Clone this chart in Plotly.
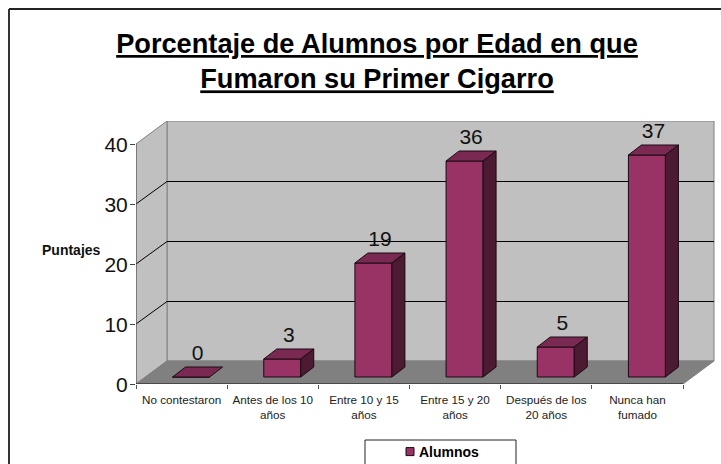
import plotly.graph_objects as go

categories = ["No contestaron", "Antes de los 10<br>años", "Entre 10 y 15<br>años",
              "Entre 15 y 20<br>años", "Después de los<br>20 años", "Nunca han<br>fumado"]
values = [0, 3, 19, 36, 5, 37]
y_ticks = [0, 10, 20, 30, 40]
series_name = "Alumnos"
title = "Porcentaje de Alumnos por Edad en que<br>Fumaron su Primer Cigarro"

W, H = 721, 464
L, R, T, B = 136, 715, 121, 384      # plot box on the page (px)
PX_X = (683 - 136) / 6               # px per category
PX_Y = 6.0                           # px per value unit
WALL_DX, WALL_DY = 31 / PX_X, 23 / PX_Y
BAR_W = 37 / PX_X
BAR_SHIFT_X, BAR_SHIFT_Y = 9.5 / PX_X, 7 / PX_Y
BAR_DX, BAR_DY = 13 / PX_X, 10 / PX_Y
LABEL_GAP = 2 / PX_Y
GRID_NUDGE = 0.5 / PX_Y

FRONT, TOP, SIDE, EDGE = "#993366", "#7A2A52", "#4D1A33", "#1A0A12"
n = len(categories)
y_max = y_ticks[-1]

fig = go.Figure()

def poly(xs, ys, fill, line, axes=("x", "y"), width=1):
    fig.add_trace(go.Scatter(x=xs, y=ys, mode="lines", fill="toself", fillcolor=fill,
                             line=dict(color=line, width=width), hoverinfo="skip",
                             showlegend=False, xaxis=axes[0], yaxis=axes[1]))

def seg(xs, ys, color, axes=("x", "y"), width=1):
    fig.add_trace(go.Scatter(x=xs, y=ys, mode="lines", line=dict(color=color, width=width),
                             hoverinfo="skip", showlegend=False, xaxis=axes[0], yaxis=axes[1]))

# walls and floor
poly([WALL_DX, n + WALL_DX, n + WALL_DX, WALL_DX, WALL_DX],
     [WALL_DY, WALL_DY, y_max + WALL_DY, y_max + WALL_DY, WALL_DY], "#C0C0C0", "#808080")
poly([0, WALL_DX, WALL_DX, 0, 0], [0, WALL_DY, y_max + WALL_DY, y_max, 0], "#C0C0C0", "#808080")
poly([0, n, n + WALL_DX, WALL_DX, 0], [0, 0, WALL_DY, WALL_DY, 0], "#808080", "#808080")

# gridlines
for v in y_ticks[1:-1]:
    seg([0, WALL_DX, n + WALL_DX],
        [v, v + WALL_DY - GRID_NUDGE, v + WALL_DY - GRID_NUDGE], "#000000")

# axis lines
seg([0, 0], [0, y_max], "#555555")
seg([0, n], [0, 0], "#111111")

# bars: front faces
centers = [i + 0.5 + BAR_SHIFT_X for i in range(n)]
fig.add_trace(go.Bar(x=centers, y=values, base=[BAR_SHIFT_Y] * n, width=BAR_W, name=series_name,
                     marker=dict(color=FRONT, line=dict(color=EDGE, width=1)),
                     xaxis="x2", yaxis="y2", showlegend=False))

# legend entry
fig.add_trace(go.Scatter(x=[None], y=[None], mode="markers", name=series_name,
                         marker=dict(symbol="square", size=8, color=FRONT,
                                     line=dict(color=EDGE, width=1)),
                         xaxis="x2", yaxis="y2", showlegend=True))

# bars: top and side faces
for c, v in zip(centers, values):
    x0, x1 = c - BAR_W / 2, c + BAR_W / 2
    y0, y1 = BAR_SHIFT_Y, BAR_SHIFT_Y + v
    poly([x0, x1, x1 + BAR_DX, x0 + BAR_DX, x0], [y1, y1, y1 + BAR_DY, y1 + BAR_DY, y1],
         TOP, EDGE, ("x2", "y2"))
    if v > 0:
        poly([x1, x1 + BAR_DX, x1 + BAR_DX, x1, x1], [y0, y0 + BAR_DY, y1 + BAR_DY, y1, y0],
             SIDE, EDGE, ("x2", "y2"))

# data labels
fig.add_trace(go.Scatter(x=[c + BAR_DX / 2 for c in centers],
                         y=[BAR_SHIFT_Y + v + BAR_DY + LABEL_GAP for v in values],
                         mode="text", text=[str(v) for v in values], textposition="top center",
                         textfont=dict(family="Liberation Sans", size=21, color="#111111"),
                         hoverinfo="skip", showlegend=False, xaxis="x2", yaxis="y2"))

x_range = [0, (R - L) / PX_X]
y_range = [0, (B - T) / PX_Y]
font = "Liberation Sans"

fig.update_layout(
    width=W, height=H, autosize=False,
    margin=dict(l=L, r=W - R, t=T, b=H - B, autoexpand=False),
    paper_bgcolor="white", plot_bgcolor="white",
    font=dict(family=font, color="#111111"),
    title=dict(text="<b><u>" + title.replace("<br>", "</u></b><br><b><u>") + "</u></b>",
               x=377 / W, xanchor="center", y=1 - 53 / H, yanchor="top",
               font=dict(family=font, size=27.2, color="black")),
    xaxis=dict(range=x_range, domain=[0, 1], tickmode="array",
               tickvals=[i + 0.5 for i in range(n)], ticktext=categories, tickangle=0,
               ticks="", showgrid=False, zeroline=False, showline=False, ticklabelstandoff=7,
               tickfont=dict(family=font, size=11.7, color="#222222")),
    yaxis=dict(range=y_range, domain=[0, 1], tickmode="array", tickvals=y_ticks,
               ticks="outside", ticklen=5, tickcolor="#444444", showgrid=False, zeroline=False,
               showline=False, ticklabelstandoff=-2, ticklabelshift=1,
               tickfont=dict(family=font, size=21, color="#111111")),
    xaxis2=dict(range=x_range, overlaying="x", tickmode="array", tickvals=list(range(n + 1)),
                ticktext=[""] * (n + 1), ticks="outside", ticklen=4, tickcolor="#555555",
                showgrid=False, zeroline=False, showline=False),
    yaxis2=dict(range=y_range, overlaying="y", showticklabels=False, ticks="", showgrid=False,
                zeroline=False, showline=False),
    showlegend=True,
    legend=dict(x=(379 - L) / (R - L), xanchor="left",
                y=(B - 436) / (B - T), yanchor="top",
                bgcolor="rgba(0,0,0,0)", borderwidth=0, itemwidth=30,
                font=dict(family=font, size=14, color="black", weight="bold")),
    annotations=[dict(text="<b>Puntajes</b>", xref="paper", yref="paper", showarrow=False,
                      x=(71 - L) / (R - L), y=(B - 250) / (B - T), xanchor="center",
                      font=dict(family=font, size=14, color="#111111"))],
    shapes=[
        dict(type="line", xref="paper", yref="paper", x0=(9 - L) / (R - L), x1=(W - L) / (R - L),
             y0=(B - 9) / (B - T), y1=(B - 9) / (B - T), line=dict(color="#222222", width=2)),
        dict(type="line", xref="paper", yref="paper", x0=(9 - L) / (R - L), x1=(9 - L) / (R - L),
             y0=(B - 9) / (B - T), y1=(B - H) / (B - T), line=dict(color="#333333", width=2)),
        dict(type="rect", xref="paper", yref="paper", x0=(365 - L) / (R - L), x1=(516 - L) / (R - L),
             y0=(B - 440) / (B - T), y1=(B - 470) / (B - T), line=dict(color="#222222", width=1)),
    ],
)

post = """document.body.style.margin='0';document.body.style.overflow='hidden';
(function f(){var s=document.querySelector('.legendsymbols');
if(s){s.setAttribute('transform','translate(11,0)');}else{requestAnimationFrame(f);}})();"""
fig.write_html("out.html", post_script=post, config={"displayModeBar": False})
